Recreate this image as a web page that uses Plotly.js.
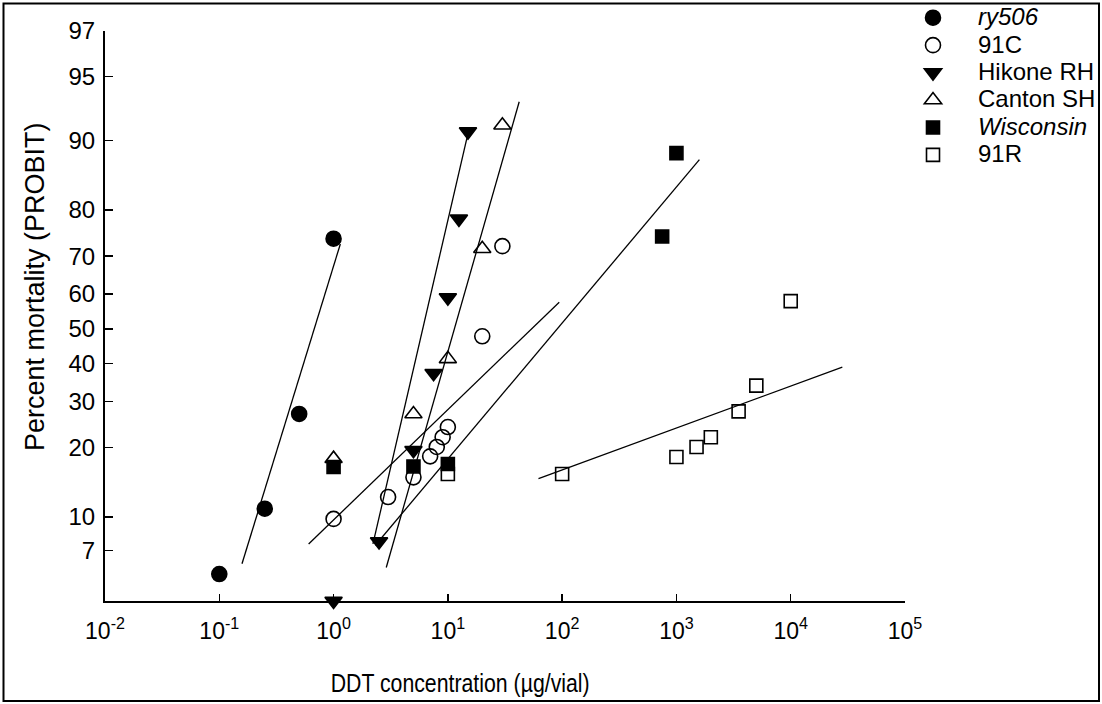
<!DOCTYPE html>
<html><head><meta charset="utf-8">
<script src="https://cdn.plot.ly/plotly-3.0.1.min.js"></script>
<style>html,body{margin:0;padding:0;background:#fff}</style>
</head><body><div id="chart" style="width:1102px;height:704px"></div>
<script>
// ---- tick definitions ----
const yTickPct = [7, 10, 20, 30, 40, 50, 60, 70, 80, 90, 95, 97];
const xTickVals = [0.01, 0.1, 1, 10, 100, 1000, 10000, 100000];
const xTickText = ['10<sup>-2</sup>', '10<sup>-1</sup>', '10<sup>0</sup>', '10<sup>1</sup>', '10<sup>2</sup>', '10<sup>3</sup>', '10<sup>4</sup>', '10<sup>5</sup>'];

// ---- observed data (DDT µg/vial, % mortality) ----
const ry506X = [0.1, 0.25, 0.5, 1];
const ry506Y = [5.4, 10.9, 27.0, 74.1];
const c91X = [1, 3, 5, 7, 8, 9, 10, 20, 30];
const c91Y = [9.8, 12.3, 15.0, 18.4, 20.1, 22.0, 24.1, 47.8, 72.4];
const hikoneX = [1, 2.5, 5, 7.5, 10, 12.5, 15];
const hikoneY = [4, 7.7, 19.5, 37.3, 59.0, 78.3, 90.9];
const cantonX = [1, 5, 10, 20, 30];
const cantonY = [18.0, 27.0, 41.3, 71.8, 91.5];
const wiscX = [1, 5, 10, 750, 1000];
const wiscY = [16.6, 16.7, 17.1, 74.6, 88.6];
const r91X = [10, 100, 1000, 1500, 2000, 3500, 5000, 10000];
const r91Y = [15.5, 15.5, 18.3, 20.1, 22.0, 27.6, 34.0, 58.0];

// ---- fitted regression line end points ----
const ry506LineX = [0.158, 1.146], ry506LineY = [6.05, 72.9];
const c91LineX = [0.605, 94.3], c91LineY = [7.5, 57.7];
const hikoneLineX = [2.21, 15.2], hikoneLineY = [7.5, 91.0];
const cantonLineX = [2.89, 42.1], cantonLineY = [5.8, 93.4];
const wiscLineX = [2.32, 1589], wiscLineY = [7.4, 87.8];
const r91LineX = [62.1, 28290], r91LineY = [14.8, 39.0];

// percent -> probability-scale coordinate
const tr = p => Math.log(p / (100 - p));
const trA = a => a.map(tr);

const FONT = 'Liberation Sans, Arial, sans-serif';
const lineStyle = {color: '#000', width: 1.3};

function lineTrace(x, y) {
  return {x: x, y: trA(y), mode: 'lines', line: lineStyle, showlegend: false, hoverinfo: 'skip'};
}
function ptTrace(name, x, y, symbol, size) {
  return {x: x, y: trA(y), mode: 'markers', name: name, cliponaxis: false,
    marker: {symbol: symbol, size: size, color: '#000', line: {color: '#000', width: 1.6}}};
}
const span = t => '<span style="font-size:24px">' + t + '</span>';

const traces = [
  lineTrace(ry506LineX, ry506LineY),
  lineTrace(c91LineX, c91LineY),
  lineTrace(hikoneLineX, hikoneLineY),
  lineTrace(cantonLineX, cantonLineY),
  lineTrace(wiscLineX, wiscLineY),
  lineTrace(r91LineX, r91LineY),
  ptTrace(span('<i>ry506</i>'), ry506X, ry506Y, 'circle', 15),
  ptTrace(span('91C'), c91X, c91Y, 'circle-open', 15),
  ptTrace(span('Hikone RH'), hikoneX, hikoneY, 'triangle-down', 15),
  ptTrace(span('Canton SH'), cantonX, cantonY, 'triangle-up-open', 15),
  ptTrace(span('<i>Wisconsin</i>'), wiscX, wiscY, 'square', 13),
  ptTrace(span('91R'), r91X, r91Y, 'square-open', 13)
];

const L = 105, R = 197, T = 31, B = 103;
const W = 1102 - L - R, H = 704 - T - B;
const px = v => (v - L) / W;
const py = v => (704 - B - v) / H;

const layout = {
  width: 1102, height: 704,
  margin: {l: L, r: R, t: T, b: B, pad: 0, autoexpand: false},
  paper_bgcolor: '#fff', plot_bgcolor: '#fff',
  font: {family: FONT, size: 24, color: '#000'},
  showlegend: true,
  legend: {x: px(888), y: py(-1), xanchor: 'left', yanchor: 'top',
    font: {family: FONT, size: 18.8, color: '#000'}, itemwidth: 80,
    bgcolor: 'rgba(0,0,0,0)', borderwidth: 0, traceorder: 'normal'},
  xaxis: {type: 'log', range: [-2, 5], tickvals: xTickVals, ticktext: xTickText,
    ticks: 'inside', ticklen: 7, tickwidth: 1.5, tickcolor: '#000',
    showline: true, linewidth: 2, linecolor: '#000', mirror: false,
    showgrid: false, zeroline: false, ticklabelstandoff: 8,
    tickfont: {family: FONT, size: 23}},
  yaxis: {range: [tr(4), tr(97)], tickvals: trA(yTickPct), ticktext: yTickPct.map(String),
    ticks: 'inside', ticklen: 8, tickwidth: 1.5, tickcolor: '#000',
    showline: true, linewidth: 2, linecolor: '#000', mirror: false,
    showgrid: false, zeroline: false, ticklabelstandoff: 3,
    tickfont: {family: FONT, size: 24}},
  annotations: [
    {text: 'DDT concentration (\u00b5g/vial)', xref: 'paper', yref: 'paper', x: px(460), y: py(683),
      xanchor: 'center', yanchor: 'middle', showarrow: false, font: {family: FONT, size: 25}},
    {text: 'Percent mortality (PROBIT)', xref: 'paper', yref: 'paper', x: px(35), y: py(287),
      xanchor: 'center', yanchor: 'middle', textangle: -90, showarrow: false, font: {family: FONT, size: 27}}
  ],
  shapes: [{type: 'rect', xref: 'paper', yref: 'paper', x0: px(3.5), x1: px(1099), y0: py(701), y1: py(3.5),
    line: {color: '#000', width: 2}, fillcolor: 'rgba(0,0,0,0)'}]
};

Plotly.newPlot('chart', traces, layout, {displayModeBar: false, staticPlot: true}).then(function (gd) {
  // the reference sets the x title in a condensed face
  const t = gd.querySelector('.annotation[data-index="0"] .annotation-text');
  if (t) { t.setAttribute('textLength', '259'); t.setAttribute('lengthAdjust', 'spacingAndGlyphs'); }
});
</script></body></html>
